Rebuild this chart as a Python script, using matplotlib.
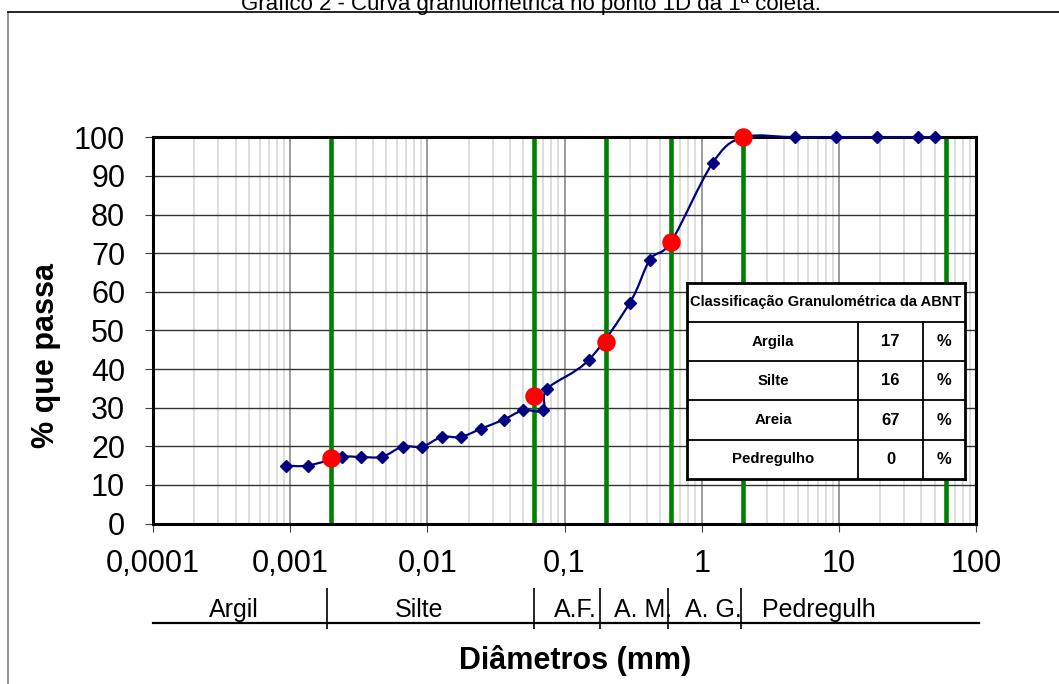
import numpy as np
import matplotlib
matplotlib.use("Agg")
import matplotlib.pyplot as plt
from matplotlib.path import Path
from matplotlib.patches import PathPatch
from matplotlib.lines import Line2D
from matplotlib.ticker import NullFormatter

plt.rcParams["font.family"] = ["Liberation Sans", "DejaVu Sans"]

# Ensaio de granulometria (peneiramento + sedimentação)
DIAMETROS = [50, 38, 19, 9.5, 4.8, 2.0, 1.2, 0.6, 0.42, 0.3, 0.15, 0.075,
             0.07, 0.05, 0.036, 0.0245, 0.0175, 0.0127, 0.0092, 0.0066,
             0.0047, 0.0033, 0.0024, 0.00134, 0.00094]
PASSANTE = [100, 100, 100, 100, 100, 100, 93.3, 73, 68.3, 57.2, 42.3, 34.9,
            29.3, 29.3, 26.9, 24.5, 22.4, 22.4, 19.9, 19.9,
            17.3, 17.2, 17.2, 15, 15]

# Limites das frações (ABNT) e % passante nesses limites
LIMITES = [0.002, 0.06, 0.2, 0.6, 2]
PASSANTE_LIMITES = [17, 33, 47, 73, 100]
LINHAS_VERDES = [0.002, 0.06, 0.2, 0.6, 2, 60]

XTICKS = [0.0001, 0.001, 0.01, 0.1, 1, 10, 100]
XTICK_LABELS = ["0,0001", "0,001", "0,01", "0,1", "1", "10", "100"]
YTICKS = list(range(0, 101, 10))

# Faixa de classificação abaixo do eixo
FAIXAS_ROTULOS = ["Argil", "Silte", "A.F.", "A. M.", "A. G.", "Pedregulh"]
FAIXAS_POS = [0.00039, 0.00875, 0.12, 0.372, 1.21, 7.14]
FAIXAS_DIVISAS = [0.00185, 0.06, 0.18, 0.57, 1.92]

# Tabela
CLASSES = ["Argila", "Silte", "Areia", "Pedregulho"]
PERCENTUAIS = [17, 16, 67, 0]


def curva_suave(xs, ys):
    """Curva suavizada (tipo Excel) em espaço log(x) x y"""
    pts = np.column_stack([np.log10(xs), ys])
    n = len(pts)
    verts = [pts[0]]
    codes = [Path.MOVETO]
    for i in range(n - 1):
        p0 = pts[max(i - 1, 0)]
        p1 = pts[i]
        p2 = pts[i + 1]
        p3 = pts[min(i + 2, n - 1)]
        verts += [p1 + (p2 - p0) / 6, p2 - (p3 - p1) / 6, p2]
        codes += [Path.CURVE4] * 3
    verts = np.array(verts)
    verts[:, 0] = 10 ** verts[:, 0]
    return Path(verts, codes)


W, H = 1059, 684
fig = plt.figure(figsize=(W / 100, H / 100), dpi=100)

# moldura e título (cortado no topo)
fig.add_artist(Line2D([7.5 / W, 7.5 / W], [0, 1 - 12 / H], color="#808080", lw=1.2))
fig.add_artist(Line2D([7.5 / W, 1], [1 - 12 / H, 1 - 12 / H], color="black", lw=1.2))
fig.text(531 / W, 1 - 10 / H, "Gráfico 2 - Curva granulométrica no ponto 1D da 1ª coleta.",
         ha="center", va="baseline", fontsize=16)

ax = fig.add_axes([153 / W, 1 - 523.5 / H, 823 / W, 386.2 / H])
ax.set_xscale("log")

for v in LINHAS_VERDES:
    ax.axvline(v, color="#008000", lw=3.3, zorder=2.2)

ax.add_patch(PathPatch(curva_suave(DIAMETROS, PASSANTE), fill=False,
                       edgecolor="#000080", lw=1.6, zorder=4, clip_on=False))
ax.plot(DIAMETROS, PASSANTE, ls="none", marker="D", ms=6.6, color="#000080",
        zorder=5, clip_on=False)
ax.plot(LIMITES, PASSANTE_LIMITES, ls="none", marker="o", ms=12.3, color="red",
        zorder=6, clip_on=False)

# eixos
ax.set_xlim(1e-4, 100)
ax.set_ylim(0, 100)
ax.set_xticks(XTICKS, XTICK_LABELS)
ax.xaxis.set_minor_formatter(NullFormatter())
ax.set_yticks(YTICKS)
ax.set_axisbelow(True)
ax.grid(which="minor", axis="x", color="#d4d4d4", lw=1.1)
ax.grid(which="major", axis="x", color="#808080", lw=1.1)
ax.grid(which="major", axis="y", color="#333333", lw=1.0)
ax.tick_params(which="major", direction="out", length=6, width=0.8,
               color="#404040", labelsize=22)
ax.tick_params(axis="x", which="major", pad=12)
ax.tick_params(axis="y", which="major", pad=14)
ax.tick_params(which="minor", length=0)
for s in ax.spines.values():
    s.set_linewidth(2.2)

# faixa de classificação
trans = ax.get_xaxis_transform()
ax.add_line(Line2D([1e-4, 105], [-0.257, -0.257], transform=trans, color="black",
                   lw=1.6, clip_on=False))
ax.vlines(FAIXAS_DIVISAS, -0.273, -0.167, transform=trans, color="black",
          lw=1.2, clip_on=False)
for pos, rot in zip(FAIXAS_POS, FAIXAS_ROTULOS):
    ax.text(pos, -0.242, rot, transform=trans, ha="center", va="baseline", fontsize=18)

fig.text(46 / W, 1 - 355 / H, "% que passa", rotation=90, ha="center", va="center",
         fontsize=22, fontweight="bold")
fig.text(575 / W, 1 - 669 / H, "Diâmetros (mm)", ha="center", va="baseline",
         fontsize=22, fontweight="bold")

# tabela de classificação
tax = fig.add_axes([686.7 / W, 1 - 479 / H, 278.3 / W, 196.3 / H])
tax.set_xlim(0, 1)
tax.set_ylim(0, 1)
tax.set_xticks([])
tax.set_yticks([])
for s in tax.spines.values():
    s.set_linewidth(2.0)
tax.text(0.5, 0.9, "Classificação Granulométrica da ABNT", ha="center", va="center",
         fontsize=10.5, fontweight="bold")
for yl in [0.8, 0.6, 0.4, 0.2]:
    tax.axhline(yl, color="black", lw=1.3)
for xl in [0.617, 0.848]:
    tax.plot([xl, xl], [0, 0.8], color="black", lw=1.3)
for i, (nome, val) in enumerate(zip(CLASSES, PERCENTUAIS)):
    yc = 0.7 - 0.2 * i
    tax.text(0.31, yc, nome, ha="center", va="center", fontsize=10.8, fontweight="bold")
    tax.text(0.733, yc, str(val), ha="center", va="center", fontsize=12, fontweight="bold")
    tax.text(0.924, yc, "%", ha="center", va="center", fontsize=12, fontweight="bold")

fig.savefig("out.png", dpi=100)
